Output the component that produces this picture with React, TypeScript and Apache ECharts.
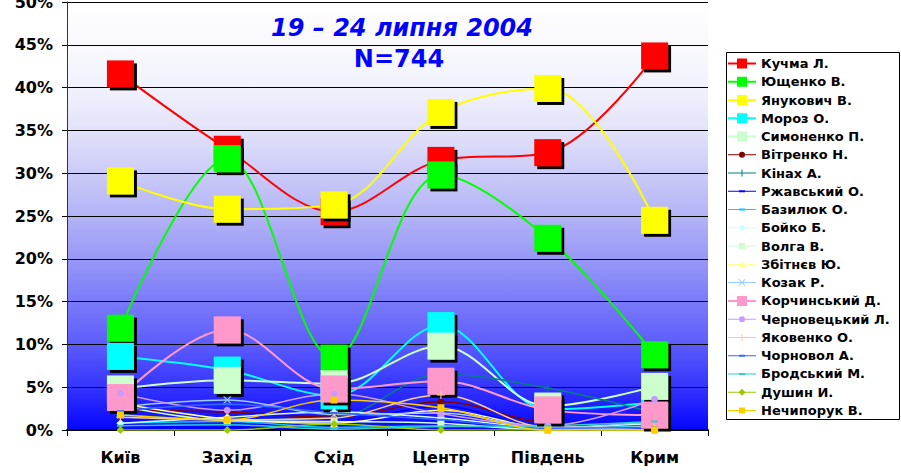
import React, { useEffect, useRef } from 'react';
import * as echarts from 'echarts';

const categories = ['Київ', 'Захід', 'Схід', 'Центр', 'Південь', 'Крим'];

const kuchma = [41.6, 32.8, 25.5, 31.5, 32.4, 43.7];
const yushchenko = [11.9, 31.7, 8.4, 29.8, 22.4, 8.8];
const yanukovych = [29.1, 25.8, 26.3, 37.1, 39.9, 24.5];
const moroz = [8.6, 7.0, 4.0, 12.2, 2.4, 3.2];
const symonenko = [4.8, 5.8, 5.4, 9.8, 2.8, 5.1];
const vitrenko = [2.3, 2.1, 1.5, 3.3, 0.8, 0.5];
const kinakh = [1.8, 1.2, 1.4, 6.5, 4.9, 2.0];
const rzhavsky = [0.4, 0.3, 0.6, 2.8, 0.2, 0.3];
const bazyliuk = [0.8, 1.0, 0.3, 0.5, 0.2, 0.5];
const boyko = [0.8, 1.5, 2.1, 1.4, 0.3, 0.8];
const volga = [2.8, 1.1, 1.0, 0.8, 0.0, 0.4];
const zbitnev = [3.1, 1.3, 0.8, 2.3, 0.2, 0.0];
const kozak = [2.7, 3.5, 1.8, 2.0, 0.3, 1.0];
const korchynsky = [3.8, 11.7, 4.8, 5.7, 2.35, 1.75];
const chernovetsky = [4.3, 2.3, 4.2, 1.9, 0.5, 3.6];
const yakovenko = [1.5, 1.2, 1.4, 4.1, 0.3, 0.3];
const chornovol = [2.2, 3.0, 2.0, 1.2, 0.2, 0.3];
const brodsky = [0.5, 0.6, 0.1, 0.4, 0.5, 1.0];
const dushyn = [0, 0, 0.7, 0, 0, 0];
const nechyporuk = [1.75, 1.2, 3.5, 2.6, 0, 0];

const seriesNames = [
  'Кучма Л.', 'Ющенко В.', 'Янукович В.', 'Мороз О.', 'Симоненко П.',
  'Вітренко Н.', 'Кінах А.', 'Ржавський О.', 'Базилюк О.', 'Бойко Б.',
  'Волга В.', 'Збітнєв Ю.', 'Козак Р.', 'Корчинський Д.', 'Черновецький Л.',
  'Яковенко О.', 'Чорновол А.', 'Бродський М.', 'Душин И.', 'Нечипорук В.',
];

const seriesValues = [
  kuchma, yushchenko, yanukovych, moroz, symonenko,
  vitrenko, kinakh, rzhavsky, bazyliuk, boyko,
  volga, zbitnev, kozak, korchynsky, chernovetsky,
  yakovenko, chornovol, brodsky, dushyn, nechyporuk,
];

const seriesColors = [
  '#FF0000', '#00FF00', '#FFFF00', '#00FFFF', '#CCFFCC',
  '#800000', '#008080', '#0000FF', '#00CCFF', '#CCFFFF',
  '#CCFFCC', '#FFFF99', '#99CCFF', '#FF99CC', '#CC99FF',
  '#FFCC99', '#3366FF', '#33CCCC', '#99CC00', '#FFCC00',
];

const seriesMarkers = [
  'big', 'big', 'big', 'big', 'big',
  'circle', 'plus', 'dash', 'dash', 'diamond',
  'square', 'triangle', 'x', 'big', 'circle',
  'plus', 'dash', 'dash', 'diamond', 'square',
];

const yTicks = { min: 0, max: 50, interval: 5 };

const PLUS_PATH = 'path://M3,0H4V3H7V4H4V7H3V4H0V3H3Z';
const X_PATH = 'path://M0,0.7L0.7,0L3.5,2.8L6.3,0L7,0.7L4.2,3.5L7,6.3L6.3,7L3.5,4.2L0.7,7L0,6.3L2.8,3.5Z';

const markerSymbols: Record<string, { symbol: string; size: number | number[] }> = {
  big: { symbol: 'rect', size: 27 },
  circle: { symbol: 'circle', size: 7 },
  plus: { symbol: PLUS_PATH, size: 8 },
  dash: { symbol: 'rect', size: [7, 2] },
  diamond: { symbol: 'diamond', size: 8 },
  square: { symbol: 'rect', size: 7 },
  triangle: { symbol: 'triangle', size: 8 },
  x: { symbol: X_PATH, size: 8 },
};

const thinLine = 'M0,6H28V7H0Z';
const legendIcons: Record<string, string> = {
  big: 'path://M0,5.5H28V7.5H0Z M9,1.5H19V11.5H9Z',
  circle: 'path://' + thinLine + ' M11,6.5A3,3 0 1 1 17,6.5A3,3 0 1 1 11,6.5Z',
  plus: 'path://' + thinLine + ' M13.5,3H14.5V6H17.5V7H14.5V10H13.5V7H10.5V6H13.5Z',
  dash: 'path://' + thinLine + ' M11,5.5H17V7.5H11Z',
  diamond: 'path://' + thinLine + ' M14,3L17.5,6.5L14,10L10.5,6.5Z',
  square: 'path://' + thinLine + ' M11,3.5H17V9.5H11Z',
  triangle: 'path://' + thinLine + ' M14,3L17.5,9.5L10.5,9.5Z',
  x: 'path://' + thinLine + ' M10.5,3.7L11.2,3L14,5.8L16.8,3L17.5,3.7L14.7,6.5L17.5,9.3L16.8,10L14,7.2L11.2,10L10.5,9.3L13.3,6.5Z',
};

const FONT = '"DejaVu Sans", Verdana, sans-serif';

export default function App() {
  const ref = useRef<HTMLDivElement>(null);

  useEffect(() => {
    if (!ref.current) return;
    const chart = echarts.init(ref.current, undefined, { renderer: 'svg' });

    const series = seriesNames.map((name, i) => {
      const m = markerSymbols[seriesMarkers[i]];
      const isBig = seriesMarkers[i] === 'big';
      return {
        name,
        type: 'line',
        data: seriesValues[i],
        smooth: 0.35,
        symbol: m.symbol,
        symbolSize: m.size,
        showSymbol: true,
        lineStyle: { color: seriesColors[i], width: isBig ? 2 : 1.5 },
        itemStyle: isBig
          ? {
              color: seriesColors[i],
              borderWidth: 0,
              shadowColor: '#000000',
              shadowOffsetX: 3,
              shadowOffsetY: 3,
              shadowBlur: 0,
            }
          : { color: seriesColors[i], borderWidth: 0 },
        emphasis: { disabled: true },
      };
    });

    const option = {
      animation: false,
      backgroundColor: '#FFFFFF',
      grid: {
        left: 67,
        right: 193,
        top: 2,
        bottom: 43,
        outerBoundsMode: 'none',
        containLabel: false,
        show: true,
        borderWidth: 0,
        backgroundColor: {
          type: 'linear',
          x: 0, y: 0, x2: 0, y2: 1,
          colorStops: [
            { offset: 0, color: '#FFFFFF' },
            { offset: 0.2, color: '#F2F2FD' },
            { offset: 0.3, color: '#E2E2FA' },
            { offset: 0.4, color: '#CBCBF8' },
            { offset: 0.5, color: '#B3B3F7' },
            { offset: 0.6, color: '#9898F8' },
            { offset: 0.7, color: '#7A7AFA' },
            { offset: 0.8, color: '#5C5CFC' },
            { offset: 0.9, color: '#3434FE' },
            { offset: 1, color: '#0505FF' },
          ],
        },
      },
      xAxis: {
        type: 'category',
        data: categories,
        boundaryGap: true,
        axisLine: { show: true, lineStyle: { color: '#000000', width: 2 } },
        axisTick: { show: true, length: 6, lineStyle: { color: '#000000', width: 1 } },
        axisLabel: {
          color: '#000000',
          fontFamily: FONT,
          fontWeight: 'bold',
          fontSize: 16,
          margin: 19,
        },
        splitLine: { show: false },
      },
      yAxis: {
        type: 'value',
        min: yTicks.min,
        max: yTicks.max,
        interval: yTicks.interval,
        axisLine: { show: true, lineStyle: { color: '#333333', width: 1 } },
        axisTick: { show: true, length: 5, lineStyle: { color: '#000000', width: 1 } },
        axisLabel: {
          formatter: '{value}%',
          color: '#000000',
          fontFamily: FONT,
          fontWeight: 'bold',
          fontSize: 16,
          margin: 14,
        },
        splitLine: { show: true, lineStyle: { color: '#000000', width: 1 } },
      },
      legend: {
        orient: 'vertical',
        left: 726,
        top: 52,
        padding: [5, 2, 4, 2],
        itemWidth: 28,
        itemHeight: 13,
        itemGap: 5.26,
        borderWidth: 0,
        selectedMode: false,
        itemStyle: { borderWidth: 0 },
        textStyle: {
          color: '#000000',
          fontFamily: FONT,
          fontWeight: 'bold',
          fontSize: 13,
        },
        data: seriesNames.map((name, i) => ({
          name,
          icon: legendIcons[seriesMarkers[i]],
          itemStyle: { color: seriesColors[i], borderWidth: 0 },
        })),
      },
      graphic: [
        {
          type: 'rect',
          z: -1,
          shape: { x: 726.5, y: 52.5, width: 173, height: 367 },
          style: { fill: '#FFFFFF', stroke: '#000000', lineWidth: 1 },
        },
        {
          type: 'text',
          x: 402,
          y: 28,
          style: {
            text: '19 – 24 липня 2004',
            fill: '#0000FF',
            fontFamily: FONT,
            fontWeight: 'bold',
            fontStyle: 'italic',
            fontSize: 24,
            align: 'center',
            verticalAlign: 'middle',
          },
        },
        {
          type: 'text',
          x: 399,
          y: 59,
          style: {
            text: 'N=744',
            fill: '#0000FF',
            fontFamily: FONT,
            fontWeight: 'bold',
            fontSize: 24,
            align: 'center',
            verticalAlign: 'middle',
          },
        },
      ],
      series,
    };

    chart.setOption(option as any);
    return () => chart.dispose();
  }, []);

  return (
    <div
      ref={ref}
      style={{ position: 'fixed', left: 0, top: 0, width: 901, height: 473 }}
    />
  );
}
